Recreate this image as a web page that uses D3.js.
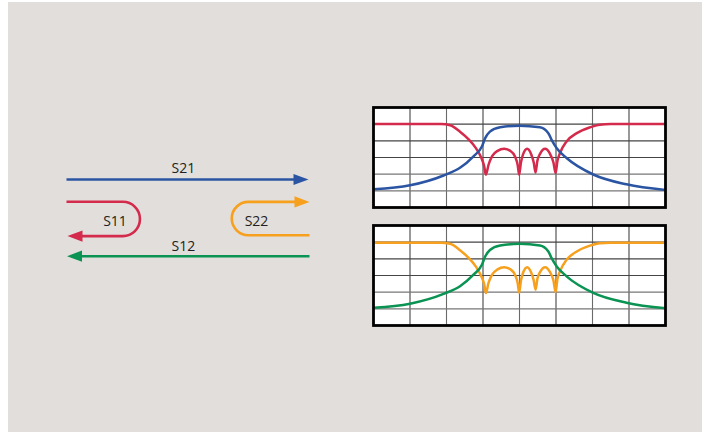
<!DOCTYPE html>
<html><head><meta charset="utf-8">
<script src="https://cdn.jsdelivr.net/npm/d3@7"></script>
<style>body{margin:0;background:#fff}svg{display:block}</style>
</head><body>
<svg id="c" width="702" height="434"></svg>
<script>
// ---- data (grid units: x 0..8 columns, y 0..6 rows from top) ----
const xTicks = [0,1,2,3,4,5,6,7,8];
const yTicks = [0,1,2,3,4,5,6];
const labels = ["S21","S11","S22","S12"];
const s11 = [[0,0.99],[1,0.99],[1.85,0.99],[2.1,1.06],[2.37,1.45],[2.6,1.9],[2.8,2.42],[2.95,3.0],[3.03,3.5],[3.08,4.03],
  [3.15,3.45],[3.25,2.92],[3.4,2.6],[3.58,2.48],[3.75,2.6],[3.88,2.95],[3.95,3.45],[3.99,4.03],
  [4.04,3.3],[4.1,2.8],[4.21,2.48],[4.32,2.8],[4.39,3.3],[4.44,3.9],
  [4.49,3.2],[4.57,2.75],[4.70,2.48],[4.83,2.75],[4.93,3.3],[4.99,3.93],
  [5.04,3.2],[5.11,2.73],[5.29,2.04],[5.57,1.54],[5.93,1.19],[6.2,1.03],[6.5,0.99],[8,0.99]];
const s21 = [[0,4.91],[1.0,4.67],[1.92,4.08],[2.37,3.62],[2.74,2.93],[2.97,2.34],[3.06,1.84],[3.19,1.45],[3.47,1.19],
  [4.0,1.09],[4.56,1.19],[4.79,1.54],[4.88,1.94],[5.02,2.44],[5.29,3.03],[6.02,4.02],[6.93,4.61],[8,4.95]];
const s22 = [[0,1.03],[1,1.03],[1.85,1.03],[2.1,1.1],[2.37,1.48],[2.6,1.93],[2.8,2.45],[2.95,3.03],[3.03,3.5],[3.08,4.05],
  [3.15,3.45],[3.25,2.95],[3.4,2.63],[3.58,2.5],[3.75,2.63],[3.88,2.97],[3.95,3.45],[3.99,4.03],
  [4.04,3.3],[4.1,2.82],[4.21,2.5],[4.32,2.82],[4.39,3.3],[4.44,3.85],
  [4.49,3.2],[4.57,2.77],[4.70,2.5],[4.83,2.77],[4.93,3.3],[4.99,4.0],
  [5.04,3.2],[5.11,2.75],[5.29,2.06],[5.57,1.56],[5.93,1.21],[6.2,1.06],[6.5,1.03],[8,1.03]];
const s12 = [[0,4.93],[1.0,4.69],[1.92,4.1],[2.37,3.64],[2.74,2.95],[2.97,2.36],[3.06,1.86],[3.19,1.47],[3.47,1.2],
  [4.0,1.1],[4.56,1.2],[4.79,1.56],[4.88,1.96],[5.02,2.46],[5.29,3.05],[6.02,4.04],[6.93,4.63],[8,4.97]];

const C = {blue:"#2b55a3", red:"#d42a4c", orange:"#f6a01e", green:"#0a9353", bg:"#e2dedb", text:"#231f20"};

const svg = d3.select("#c");
svg.append("rect").attr("x",8).attr("y",2).attr("width",694).attr("height",430).attr("fill",C.bg);

// ---- panels ----
function panel(top, bot, curves){
  const x = d3.scaleLinear().domain([0,8]).range([373.5,665.5]);
  const y = d3.scaleLinear().domain([0,6]).range([top,bot]);
  const g = svg.append("g");
  g.append("rect").attr("x",x(0)).attr("y",y(0)).attr("width",x(8)-x(0)).attr("height",y(6)-y(0)).attr("fill","#fff");
  g.selectAll(".v").data(xTicks.slice(1,-1)).join("line")
    .attr("x1",d=>x(d)).attr("x2",d=>x(d)).attr("y1",y(0)).attr("y2",y(6))
    .attr("stroke",(d,i)=>i%2?"#6a6a6a":"#444").attr("stroke-width",1.1);
  g.selectAll(".h").data(yTicks.slice(1,-1)).join("line")
    .attr("y1",d=>y(d)).attr("y2",d=>y(d)).attr("x1",x(0)).attr("x2",x(8))
    .attr("stroke",(d,i)=>i>2?"#777":"#444").attr("stroke-width",1.1);
  const line = d3.line().x(d=>x(d[0])).y(d=>y(d[1])).curve(d3.curveMonotoneX);
  curves.forEach(([data,col])=>{
    g.append("path").attr("d",line(data)).attr("fill","none").attr("stroke",col)
      .attr("stroke-width",2.5).attr("stroke-linejoin","round");
  });
  g.append("rect").attr("x",x(0)).attr("y",y(0)).attr("width",x(8)-x(0)).attr("height",y(6)-y(0))
    .attr("fill","none").attr("stroke","#000").attr("stroke-width",2.8);
}
panel(107.5, 207.5, [[s11,C.red],[s21,C.blue]]);
panel(225.5, 325.5, [[s22,C.orange],[s12,C.green]]);

// ---- signal-flow arrows ----
const dg = svg.append("g");
function head(tipX, y, dir, col){
  const L=15, H=5.6;
  dg.append("path").attr("d",`M${tipX},${y}L${tipX-dir*L},${y-H}L${tipX-dir*L},${y+H}Z`).attr("fill",col);
}
function stroke(d,col){ dg.append("path").attr("d",d).attr("fill","none").attr("stroke",col).attr("stroke-width",2.6); }
// S21
stroke("M66.5,179.5H296",C.blue); head(308.5,179.5,1,C.blue);
// S11
const r1=17.15;
stroke(`M66.5,201.8H122.8A${r1},${r1} 0 0 1 122.8,236.1H80`,C.red); head(67.5,236.1,-1,C.red);
// S22
const r2=16.65;
stroke(`M309.5,235.2H248.4A${r2},${r2} 0 0 1 248.4,201.9H297`,C.orange); head(309.5,201.9,1,C.orange);
// S12
stroke("M309.5,256.2H80",C.green); head(67,256.2,-1,C.green);

const tpos = [[183.3,172.8],[115,226.3],[256.5,226.3],[183.3,250.8]];
dg.selectAll("text").data(labels).join("text")
  .attr("x",(d,i)=>tpos[i][0]).attr("y",(d,i)=>tpos[i][1]).attr("text-anchor","middle")
  .attr("font-family","'Open Sans', sans-serif").attr("font-size",14).attr("fill",C.text).text(d=>d);
</script>
</body></html>
